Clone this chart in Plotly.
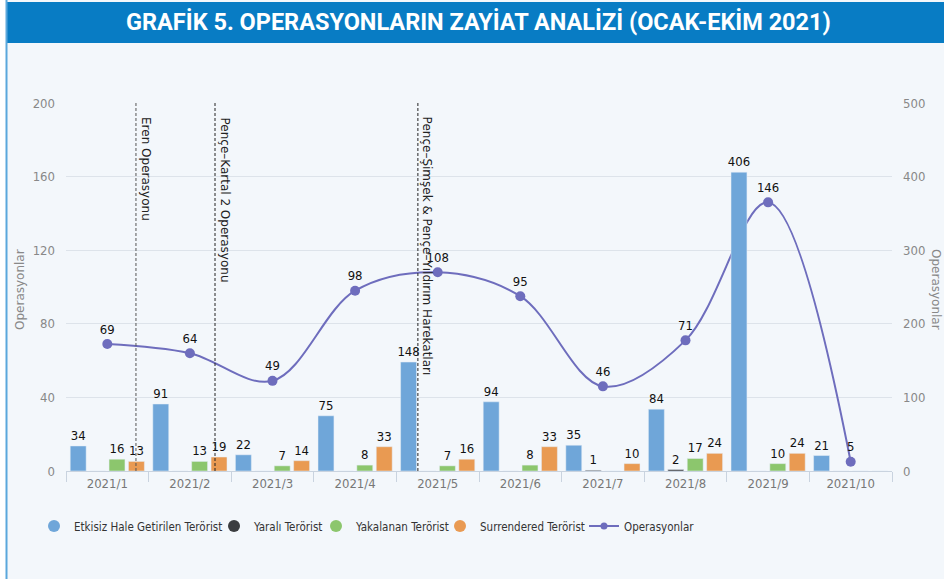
import plotly.graph_objects as go

months = ["2021/1", "2021/2", "2021/3", "2021/4", "2021/5",
          "2021/6", "2021/7", "2021/8", "2021/9", "2021/10"]
etkisiz = [34, 91, 22, 75, 148, 94, 35, 84, 406, 21]
yarali = [0, 0, 0, 0, 0, 0, 1, 2, 0, 0]
yakalanan = [16, 13, 7, 8, 7, 8, 0, 17, 10, 0]
surrendered = [13, 19, 14, 33, 16, 33, 10, 24, 24, 0]
operasyonlar = [69, 64, 49, 98, 108, 95, 46, 71, 146, 5]

event_names = ["Eren Operasyonu", "Pençe–Kartal 2 Operasyonu",
               "Pençe–Şimşek & Pençe–Yıldırım Harekatları"]
event_pos = [0.347, 1.304, 3.76]

title = "GRAFİK 5. OPERASYONLARIN ZAYİAT ANALİZİ (OCAK-EKİM 2021)"
axis_title = "Operasyonlar"

FONT = "DejaVu Sans Condensed, Roboto, sans-serif"
TFONT = "Roboto, Open Sans, sans-serif"
C_BLUE = "#6fa6d9"
C_BLACK = "#3b3d40"
C_GREEN = "#8cc66d"
C_ORANGE = "#e99a52"
C_LINE = "#6e6dbd"
BG = "#f3f7fb"

# plot area in pixels
W, H = 944, 579
L, R, T, B = 66, 52, 103, 108
PW, PH = W - L - R, H - T - B


def px_x(p):
    return (p - L) / PW


def px_y(p):
    return (H - B - p) / PH


def lbl(v):
    return [str(x) if x else "" for x in v]


fig = go.Figure()
series = [("Etkisiz Hale Getirilen Terörist", etkisiz, C_BLUE),
          ("Yaralı Terörist", yarali, C_BLACK),
          ("Yakalanan Terörist", yakalanan, C_GREEN),
          ("Surrendered Terörist", surrendered, C_ORANGE)]
for name, vals, col in series:
    fig.add_trace(go.Bar(
        x=months, y=vals, name=name, marker_color=col, yaxis="y2",
        text=lbl(vals), textposition="outside", cliponaxis=False, constraintext="none",
        textfont=dict(family=FONT, size=13, color="#111"),
        showlegend=False, hoverinfo="x+y+name"))

fig.add_trace(go.Scatter(
    x=months, y=operasyonlar, name="Operasyonlar", mode="lines+markers+text",
    line=dict(color=C_LINE, width=2, shape="spline", smoothing=1.0),
    marker=dict(size=10, color=C_LINE),
    text=[str(v) for v in operasyonlar], textposition="top center",
    textfont=dict(family=FONT, size=13, color="#111"),
    cliponaxis=False, showlegend=False, yaxis="y"))

# legend entries (circle symbols as in the original), one legend box per entry
legend_ids = ["legend", "legend2", "legend3", "legend4", "legend5"]
legend_px = [34, 214, 316, 440, 584]
for (name, vals, col), lid in zip(series, legend_ids):
    fig.add_trace(go.Scatter(x=[None], y=[None], mode="markers", name=name, legend=lid,
                             marker=dict(symbol="circle", size=12, color=col)))
fig.add_trace(go.Scatter(x=[None], y=[None], mode="lines+markers", name="Operasyonlar",
                         legend=legend_ids[4],
                         line=dict(color=C_LINE, width=2), marker=dict(size=7, color=C_LINE)))

shapes = [
    dict(type="rect", xref="paper", yref="paper", x0=px_x(0), x1=px_x(6), y0=px_y(H), y1=px_y(0),
         fillcolor="white", line_width=0, layer="below"),
    dict(type="rect", xref="paper", yref="paper", x0=px_x(7), x1=px_x(W + 2), y0=px_y(43), y1=px_y(2),
         fillcolor="#087cc4", line_width=0),
    dict(type="line", xref="paper", yref="paper", x0=px_x(6.5), x1=px_x(6.5), y0=px_y(H + 2), y1=px_y(0),
         line=dict(color="#5aa7dc", width=2)),
]
dash_cols = ["#555", "#222", "#222"]
for pos, col in zip(event_pos, dash_cols):
    shapes.append(dict(type="line", xref="x", yref="paper", x0=pos, x1=pos, y0=0, y1=1,
                       line=dict(color=col, width=1, dash="3px,2px")))

annotations = [dict(text="<b>" + title + "</b>", xref="paper", yref="paper",
                    x=px_x(478), y=px_y(22), showarrow=False, xanchor="center", yanchor="middle",
                    font=dict(family=TFONT, size=23.5, color="white"))]
for pos, name in zip(event_pos, event_names):
    annotations.append(dict(text=name, xref="x", yref="paper", x=pos, y=px_y(115),
                            textangle=90, xanchor="left", yanchor="top", xshift=1,
                            showarrow=False, font=dict(family="DejaVu Sans, sans-serif", size=12, color="#222")))
for xp, ang in [(20, -90), (936, 90)]:
    annotations.append(dict(text=axis_title, xref="paper", yref="paper", x=px_x(xp), y=px_y(290),
                            textangle=ang, xanchor="center", yanchor="middle", showarrow=False,
                            font=dict(family="DejaVu Sans, sans-serif", size=12, color="#888")))

leg_common = dict(orientation="h", yanchor="middle", y=px_y(526), xanchor="left",
                  font=dict(size=11.5, color="#333"), bgcolor="rgba(0,0,0,0)", itemwidth=30)

fig.update_layout(
    width=W, height=H, margin=dict(l=L, r=R, t=T, b=B),
    paper_bgcolor=BG, plot_bgcolor=BG,
    barmode="group", bargap=0.06, bargroupgap=0.18,
    font=dict(family=FONT, color="#777"),
    xaxis=dict(type="category", tickson="boundaries", ticks="outside", ticklen=10,
               tickcolor="#c9d3df", showline=True, linecolor="#c9d3df", showgrid=False,
               tickfont=dict(size=13, color="#777"), range=[-0.5, 9.5], automargin=False),
    yaxis=dict(range=[0, 200], dtick=40, showgrid=True, gridcolor="#dde3ea", zeroline=False,
               tickfont=dict(size=13, color="#888"), ticklabelstandoff=10, automargin=False),
    yaxis2=dict(range=[0, 500], dtick=100, overlaying="y", side="right", showgrid=False,
                zeroline=False, tickfont=dict(size=13, color="#888"), ticklabelstandoff=10,
                automargin=False),
    legend=dict(x=px_x(legend_px[0]), **leg_common),
    legend2=dict(x=px_x(legend_px[1]), **leg_common),
    legend3=dict(x=px_x(legend_px[2]), **leg_common),
    legend4=dict(x=px_x(legend_px[3]), **leg_common),
    legend5=dict(x=px_x(legend_px[4]), **leg_common),
    shapes=shapes, annotations=annotations,
)

fig.write_html("out.html", config={"displayModeBar": False},
               post_script="document.body.style.margin='0px';")
